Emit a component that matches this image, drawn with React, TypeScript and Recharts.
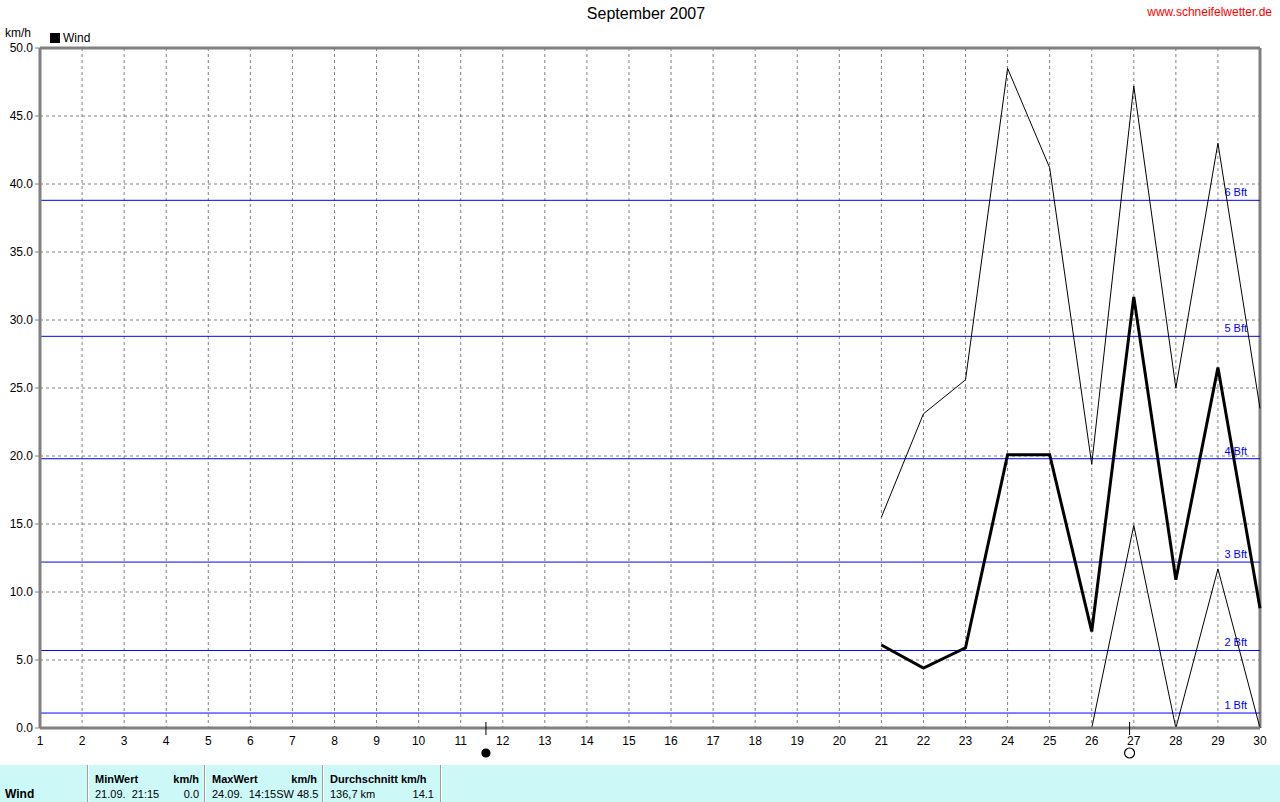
import React from 'react'
import {
  LineChart,
  Line,
  XAxis,
  YAxis,
  CartesianGrid,
  ReferenceLine,
  ReferenceDot,
} from 'recharts'

// Days of September 2007
const days = Array.from({ length: 30 }, (_, i) => i + 1)

// Wind speed km/h (only 21.-30. recorded)
const windMax: (number | null)[] = [
  null, null, null, null, null, null, null, null, null, null,
  null, null, null, null, null, null, null, null, null, null,
  15.5, 23.1, 25.6, 48.5, 41.2, 19.4, 47.2, 25.0, 43.0, 23.5,
]
const windAvg: (number | null)[] = [
  null, null, null, null, null, null, null, null, null, null,
  null, null, null, null, null, null, null, null, null, null,
  6.1, 4.4, 5.9, 20.1, 20.1, 7.1, 31.7, 10.9, 26.5, 8.8,
]
const windMin: (number | null)[] = [
  null, null, null, null, null, null, null, null, null, null,
  null, null, null, null, null, null, null, null, null, null,
  null, null, null, null, null, 0, 14.9, 0, 11.7, 0,
]

// Beaufort thresholds in km/h
const bftLevels = [1.1, 5.7, 12.2, 19.8, 28.8, 38.8]
const bftLabels = ['1 Bft', '2 Bft', '3 Bft', '4 Bft', '5 Bft', '6 Bft']

const yTicks = [0, 5, 10, 15, 20, 25, 30, 35, 40, 45, 50]

// moon phases (day of month)
const newMoonDay = 11.6
const fullMoonDay = 26.9

const data = days.map((d, i) => ({
  day: d,
  max: windMax[i],
  avg: windAvg[i],
  min: windMin[i],
}))

const FONT = '"Liberation Sans", Arial, sans-serif'
const GRAY = '#808080'

function MoonMark({ cx, cy, filled }: { cx?: number; cy?: number; filled: boolean }) {
  if (cx == null || cy == null) return null
  return (
    <g>
      <line x1={cx} x2={cx} y1={cy - 6} y2={cy + 7} stroke="#000" strokeWidth={1} />
      <circle
        cx={cx}
        cy={cy + 25}
        r={filled ? 4 : 5}
        fill={filled ? '#000' : 'none'}
        stroke="#000"
        strokeWidth={1.2}
      />
    </g>
  )
}

const cellText: React.CSSProperties = {
  position: 'absolute',
  fontFamily: FONT,
  fontSize: 11,
  color: '#000',
  whiteSpace: 'pre',
  lineHeight: '14px',
}

function Separator({ x }: { x: number }) {
  return (
    <div
      style={{
        position: 'absolute',
        left: x,
        top: 0,
        width: 1,
        height: 37,
        background: '#a0a0a0',
        borderRight: '1px solid #fff',
      }}
    />
  )
}

export default function App() {
  return (
    <div
      style={{
        position: 'absolute',
        left: 0,
        top: 0,
        width: 1280,
        height: 802,
        background: '#fff',
        fontFamily: FONT,
        overflow: 'hidden',
      }}
    >
      <div
        style={{
          position: 'absolute',
          left: 0,
          width: 1280,
          top: 5,
          textAlign: 'center',
          fontSize: 16,
          paddingLeft: 6,
        }}
      >
        September 2007
      </div>
      <div style={{ position: 'absolute', right: 8, top: 5, fontSize: 12, color: '#ff0000' }}>
        www.schneifelwetter.de
      </div>
      <div style={{ position: 'absolute', left: 5, top: 26, fontSize: 12 }}>km/h</div>
      <div
        style={{
          position: 'absolute',
          left: 50,
          top: 33,
          width: 10,
          height: 10,
          background: '#000',
        }}
      />
      <div style={{ position: 'absolute', left: 63, top: 31, fontSize: 12 }}>Wind</div>

      <div style={{ position: 'absolute', left: 0, top: 0 }}>
        <LineChart
          width={1280}
          height={765}
          data={data}
          margin={{ top: 48, right: 20, bottom: 7, left: 0 }}
        >
          <CartesianGrid stroke={GRAY} strokeDasharray="3 3" />
          <XAxis
            dataKey="day"
            type="number"
            domain={[1, 30]}
            ticks={days}
            interval={0}
            height={30}
            tickLine={false}
            axisLine={{ stroke: GRAY, strokeWidth: 3 }}
            tick={{ fill: '#000', fontSize: 12, fontFamily: FONT }}
          />
          <YAxis
            type="number"
            domain={[0, 50]}
            ticks={yTicks}
            width={40}
            tickSize={5}
            tickMargin={2}
            tickFormatter={(v: number) => v.toFixed(1)}
            axisLine={{ stroke: GRAY, strokeWidth: 3 }}
            tickLine={{ stroke: GRAY }}
            tick={{ fill: '#000', fontSize: 12, fontFamily: FONT }}
          />
          <ReferenceLine y={50} stroke={GRAY} strokeWidth={3} />
          <ReferenceLine x={30} stroke={GRAY} strokeWidth={3} />
          {bftLevels.map((v, i) => (
            <ReferenceLine
              key={bftLabels[i]}
              y={v}
              stroke="#0000ff"
              strokeWidth={1}
              label={(props: any) => {
                const vb = props.viewBox || {}
                return (
                  <text
                    x={vb.x + vb.width - 13}
                    y={vb.y - 4}
                    textAnchor="end"
                    fill="#0000ff"
                    fontSize={11}
                    fontFamily={FONT}
                  >
                    {bftLabels[i]}
                  </text>
                )
              }}
            />
          ))}
          <Line
            type="linear"
            dataKey="max"
            stroke="#000"
            strokeWidth={1}
            dot={false}
            isAnimationActive={false}
          />
          <Line
            type="linear"
            dataKey="min"
            stroke="#000"
            strokeWidth={1}
            dot={false}
            isAnimationActive={false}
          />
          <Line
            type="linear"
            dataKey="avg"
            stroke="#000"
            strokeWidth={3}
            dot={false}
            isAnimationActive={false}
          />
          <ReferenceDot
            x={newMoonDay}
            y={0}
            ifOverflow="visible"
            shape={(p: any) => <MoonMark cx={p.cx} cy={p.cy} filled />}
          />
          <ReferenceDot
            x={fullMoonDay}
            y={0}
            ifOverflow="visible"
            shape={(p: any) => <MoonMark cx={p.cx} cy={p.cy} filled={false} />}
          />
        </LineChart>
      </div>

      <div
        style={{
          position: 'absolute',
          left: 0,
          top: 765,
          width: 1280,
          height: 37,
          background: '#ccf8f8',
        }}
      >
        <Separator x={87} />
        <Separator x={204} />
        <Separator x={322} />
        <Separator x={440} />
        <div style={{ ...cellText, left: 5, top: 22, fontWeight: 'bold', fontSize: 12 }}>Wind</div>

        <div style={{ ...cellText, left: 95, top: 7, fontWeight: 'bold' }}>MinWert</div>
        <div style={{ ...cellText, right: 1280 - 199, top: 7, fontWeight: 'bold' }}>km/h</div>
        <div style={{ ...cellText, left: 95, top: 22 }}>21.09.  21:15</div>
        <div style={{ ...cellText, right: 1280 - 199, top: 22 }}>0.0</div>

        <div style={{ ...cellText, left: 212, top: 7, fontWeight: 'bold' }}>MaxWert</div>
        <div style={{ ...cellText, right: 1280 - 317, top: 7, fontWeight: 'bold' }}>km/h</div>
        <div style={{ ...cellText, left: 212, top: 22 }}>24.09.  14:15SW 48.5</div>

        <div style={{ ...cellText, left: 330, top: 7, fontWeight: 'bold' }}>Durchschnitt km/h</div>
        <div style={{ ...cellText, left: 330, top: 22 }}>136,7 km</div>
        <div style={{ ...cellText, right: 1280 - 434, top: 22 }}>14.1</div>
      </div>
    </div>
  )
}
